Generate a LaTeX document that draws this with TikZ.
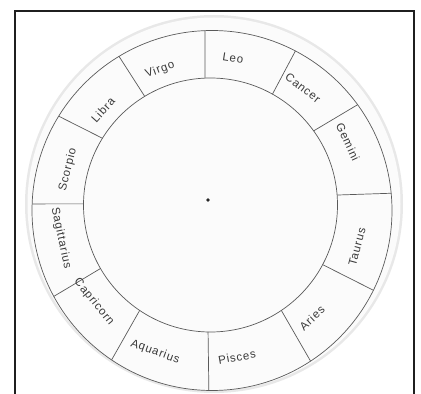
\documentclass[tikz,border=0pt]{standalone}
\usepackage{fontspec}
\setmainfont[LetterSpace=7]{Liberation Sans}
\definecolor{ink}{HTML}{3A3A3A}
\definecolor{pencil}{HTML}{5A5A5A}
\begin{document}
\begin{tikzpicture}[x=1pt,y=1pt,
  divider/.style={draw=pencil, line width=0.7pt},
  sign/.style={text=ink, font=\fontsize{11.5}{12}\selectfont, inner sep=0pt},
  frameline/.style={draw=black!88, line width=2pt}]
\useasboundingbox (0,0) rectangle (421,394);
\fill[white] (0,0) rectangle (421,394);
% paper disc
\coordinate (P) at (214,190);
\fill[gray!18] (P) circle (189);
\fill[gray!3] (P) circle (186.5);
% circle centres
\coordinate (O) at (212,183.5);
\coordinate (I) at (210.5,189);
\draw[divider] (O) circle (180);
\draw[divider] (I) circle (127);
% dividers
\foreach \n/\a/\b in {1/92.2/92.5, 2/62.4/60.8, 3/36/35.7, 4/5.5/4.5, 5/-26.3/-28, 6/-56.8/-56.1,
                     7/-91/-91.1, 8/-123.9/-123.9, 9/-151.5/-150, 10/177.9/179.5, 11/148.4/148.3, 12/121.1/121.2}{
  \path (O) ++(\a:180) coordinate (o\n);
  \path (I) ++(\b:127) coordinate (i\n);
  \draw[divider] (o\n) -- (i\n);
}
% centre dot
\fill[black!85] (208,194) circle (1.9);
\node[sign, rotate=-9]  (leo)  at (233,336) {Leo};
\node[sign, rotate=20]  (vir)  at (160,324) {Virgo};
\node[sign, rotate=48]  (lib)  at (103,284) {Libra};
\node[sign, rotate=76]  (sco)  at (68,224)  {Scorpio};
\node[sign, rotate=-78] (sag)  at (61,156)  {Sagittarius};
\node[sign, rotate=-51] (cap)  at (94,92)   {Capricorn};
\node[sign, rotate=-20] (aqu)  at (155,42)  {Aquarius};
\node[sign, rotate=10]  (pis)  at (237,37)  {Pisces};
\node[sign, rotate=43]  (ari)  at (312,76)  {Aries};
\node[sign, rotate=75]  (tau)  at (357,147) {Taurus};
\node[sign, rotate=-65] (gem)  at (348,252) {Gemini};
\node[sign, rotate=-38] (can)  at (303,306) {Cancer};
% frame
\draw[frameline] (15,-5) -- (15,383) -- (414,383) -- (414,-5);
\end{tikzpicture}
\end{document}
